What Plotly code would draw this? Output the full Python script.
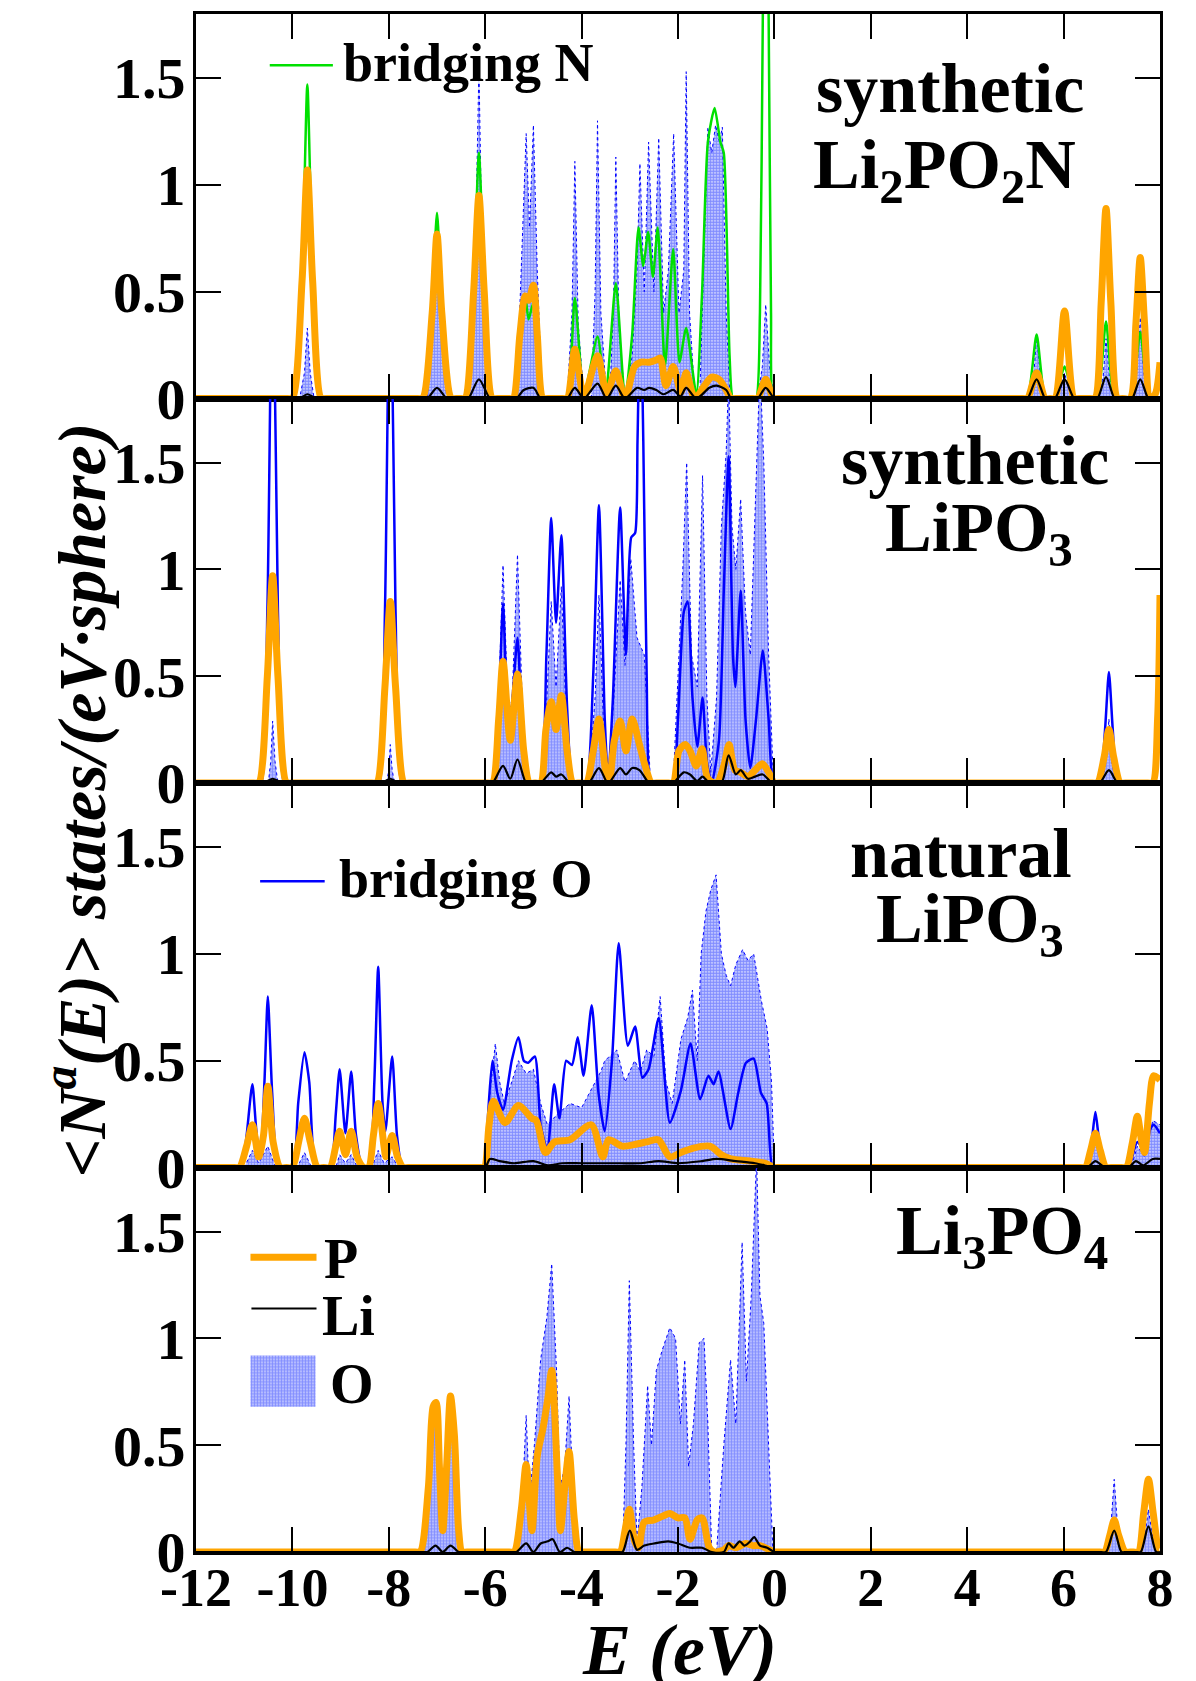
import plotly.graph_objects as go
from plotly.subplots import make_subplots

# ---------------- DATA ----------------
x_ticks = [-12, -10, -8, -6, -4, -2, 0, 2, 4, 6, 8]
x_ticktext = ["-12", "-10", "-8", "-6", "-4", "-2", "0", "2", "4", "6", "8"]
y_ticks = [0, 0.5, 1, 1.5]
y_ticktext = ["0", "0.5", "1", "1.5"]

# ---- Panel 1: synthetic Li2PO2N ----
p1_P_E = [-12, -10.1, -10.0, -9.8, -9.69, -9.58, -9.4, -9.3, -7.4, -7.3, -7.1, -7.0, -6.9, -6.7, -6.6, -6.5, -6.42,
          -6.24, -6.13, -6.02, -5.85, -5.75, -5.5, -5.42, -5.28, -5.17, -5.1, -5.0, -4.92, -4.8, -4.7, -4.4, -4.3,
          -4.14, -3.95, -3.67, -3.48, -3.29, -3.1, -2.9, -2.77, -2.6, -2.45, -2.37, -2.25, -2.1, -1.94, -1.83, -1.65,
          -1.45, -1.3, -1.15, -1.0, -0.9, -0.8, -0.45, -0.35, -0.18, -0.02, 0.08,
          5.15, 5.25, 5.44, 5.62, 5.72, 5.82, 6.02, 6.22, 6.32, 6.55, 6.65, 6.78, 6.88, 6.98, 7.12, 7.22, 7.38, 7.5,
          7.59, 7.68, 7.8, 7.9, 8.0]
p1_P_v = [0, 0, 0, 0.55, 1.07, 0.55, 0, 0, 0, 0, 0.4, 0.77, 0.4, 0, 0, 0, 0,
          0.5, 0.95, 0.5, 0, 0, 0, 0, 0.3, 0.48, 0.46, 0.53, 0.3, 0, 0, 0, 0,
          0.23, 0.01, 0.2, 0.02, 0.13, 0.0, 0.15, 0.17, 0.17, 0.18, 0.19, 0.06, 0.15, 0.03, 0.12, 0.0,
          0.06, 0.1, 0.09, 0.04, 0, 0, 0, 0, 0.09, 0, 0,
          0, 0, 0.12, 0, 0, 0, 0.41, 0, 0, 0, 0, 0.45, 0.89, 0.45, 0, 0, 0, 0.35,
          0.66, 0.35, 0, 0.02, 0.17]

p1_N_E = [-12, -10.1, -10.0, -9.8, -9.69, -9.58, -9.4, -9.3, -7.4, -7.3, -7.1, -7.0, -6.9, -6.7, -6.6, -6.5, -6.42,
          -6.24, -6.13, -6.02, -5.85, -5.75, -5.5, -5.42, -5.28, -5.17, -5.1, -5.0, -4.92, -4.8, -4.7, -4.4, -4.3,
          -4.14, -3.95, -3.67, -3.5, -3.29, -3.1, -2.95, -2.82, -2.72, -2.62, -2.52, -2.42, -2.27, -2.1, -1.97,
          -1.83, -1.62, -1.5, -1.38, -1.24, -1.12, -1.05, -0.93, -0.86, -0.76, -0.48, -0.38, -0.3, -0.24, -0.18,
          -0.12, -0.07, -0.03, 0.05, 5.15, 5.25, 5.44, 5.62, 5.72, 5.82, 6.02, 6.22, 6.32, 6.6, 6.7, 6.88, 7.05,
          7.15, 7.3, 7.4, 7.59, 7.78, 7.9, 8.0]
p1_N_v = [0, 0, 0, 0.6, 1.47, 0.6, 0, 0, 0, 0, 0.45, 0.87, 0.45, 0, 0, 0, 0,
          0.55, 1.15, 0.55, 0, 0, 0, 0, 0.3, 0.48, 0.37, 0.45, 0.3, 0, 0, 0, 0,
          0.47, 0.02, 0.29, 0.02, 0.54, 0.0, 0.3, 0.8, 0.62, 0.78, 0.57, 0.8, 0.15, 0.7, 0.17,
          0.33, 0.02, 0.5, 1.2, 1.36, 1.2, 1.15, 0.2, 0, 0, 0, 0, 0.4, 1.8, 2.8,
          1.8, 0.4, 0, 0, 0, 0, 0.3, 0, 0, 0, 0.15, 0, 0, 0, 0, 0.36, 0,
          0, 0, 0, 0.31, 0, 0, 0]

p1_Li_E = [-12, -9.95, -9.85, -9.69, -9.5, -9.4, -7.3, -7.2, -7.0, -6.8, -6.7, -6.45, -6.35, -6.13, -5.9, -5.8,
           -5.45, -5.35, -5.2, -5.0, -4.85, -4.75, -4.4, -4.3, -4.14, -3.95, -3.67, -3.48, -3.29, -3.1, -2.85,
           -2.7, -2.6, -2.45, -2.3, -2.1, -1.95, -1.83, -1.62, -1.35, -1.2, -1.0, -0.9, -0.8, -0.45, -0.35,
           -0.18, 0.0, 0.1, 5.15, 5.25, 5.44, 5.62, 5.72, 5.82, 6.02, 6.22, 6.32, 6.6, 6.7, 6.88, 7.06, 7.16,
           7.32, 7.42, 7.59, 7.76, 7.86, 8.0]
p1_Li_v = [0, 0, 0, 0.02, 0, 0, 0, 0, 0.05, 0, 0, 0, 0, 0.09, 0, 0,
           0, 0, 0.04, 0.05, 0, 0, 0, 0, 0.05, 0, 0.07, 0, 0.06, 0, 0.05,
           0.04, 0.05, 0.04, 0.02, 0.04, 0.01, 0.05, 0, 0.05, 0.06, 0.04, 0, 0, 0, 0,
           0.05, 0, 0, 0, 0, 0.09, 0, 0, 0, 0.09, 0, 0, 0, 0, 0.1, 0, 0,
           0, 0, 0.09, 0, 0, 0]

p1_O_E = [-12, -9.85, -9.75, -9.69, -9.63, -9.55, -7.2, -7.1, -7.0, -6.9, -6.8, -6.35, -6.22, -6.13, -6.05, -5.9,
          -5.35, -5.25, -5.15, -5.08, -5.0, -4.92, -4.82, -4.3, -4.2, -4.14, -4.07, -3.95, -3.8, -3.72, -3.67, -3.6,
          -3.48, -3.42, -3.34, -3.29, -3.22, -3.1, -2.95, -2.85, -2.79, -2.7, -2.61, -2.5, -2.4, -2.3, -2.2, -2.09,
          -1.98, -1.88, -1.83, -1.76, -1.65, -1.55, -1.45, -1.38, -1.3, -1.22, -1.14, -1.08, -1.0, -0.92, -0.35,
          -0.25, -0.18, -0.1, 0.0, 5.25, 5.38, 5.44, 5.52, 5.62, 5.85, 5.95, 6.02, 6.1, 6.2, 6.7, 6.82, 6.88, 6.95,
          7.05, 7.4, 7.52, 7.59, 7.66, 7.78, 8.0]
p1_O_v = [0, 0, 0.12, 0.33, 0.12, 0, 0, 0.35, 0.85, 0.35, 0, 0, 0.5, 1.55, 0.5, 0,
          0, 0.6, 1.24, 0.8, 1.28, 0.6, 0, 0, 0.4, 1.11, 0.35, 0, 0, 0.5, 1.3, 0.4,
          0, 0, 0.4, 1.13, 0.3, 0, 0.2, 0.6, 1.1, 0.5, 1.2, 0.5, 1.22, 0.4, 0.6, 1.24,
          0.4, 0.6, 1.53, 0.4, 0, 0, 0.7, 1.27, 1.15, 1.28, 1.2, 1.27, 0.4, 0, 0,
          0.15, 0.44, 0.15, 0, 0, 0.1, 0.3, 0.1, 0, 0, 0.05, 0.12, 0.05, 0, 0, 0.1, 0.28, 0.1,
          0, 0, 0.12, 0.38, 0.12, 0, 0]

# ---- Panel 2: synthetic LiPO3 ----
p2_P_E = [-12, -10.8, -10.7, -10.52, -10.41, -10.3, -10.12, -10.02, -8.35, -8.25, -8.08, -7.97, -7.86, -7.68,
          -7.58, -5.95, -5.85, -5.72, -5.63, -5.48, -5.33, -5.2, -5.08, -4.98, -4.95, -4.85, -4.74, -4.63, -4.53,
          -4.42, -4.3, -4.18, -4.08, -4.0, -3.9, -3.76, -3.64, -3.5, -3.43, -3.32, -3.2, -3.08, -2.95, -2.8, -2.68,
          -2.55, -2.45, -2.2, -2.1, -1.98, -1.85, -1.75, -1.62, -1.5, -1.38, -1.2, -1.05, -0.94, -0.82, -0.7,
          -0.55, -0.4, -0.25, -0.12, 0.0, 0.1, 6.6, 6.7, 6.84, 6.94, 7.04, 7.18, 7.28, 7.75, 7.85, 7.95, 8.0]
p2_P_v = [0, 0, 0, 0.5, 0.97, 0.5, 0, 0, 0, 0, 0.45, 0.85, 0.45, 0,
          0, 0, 0, 0.3, 0.57, 0.2, 0.51, 0.15, 0, 0, 0, 0, 0.25, 0.38, 0.25,
          0.41, 0.15, 0, 0, 0, 0, 0.15, 0.3, 0.05, 0.0, 0.2, 0.29, 0.15, 0.3, 0.18, 0.08,
          0, 0, 0, 0, 0.15, 0.18, 0.15, 0.08, 0.16, 0.02, 0.0, 0.08, 0.18, 0.06, 0.05,
          0.03, 0.06, 0.09, 0.05, 0, 0, 0, 0, 0.12, 0.25, 0.12, 0, 0, 0, 0, 0.3, 0.88]

p2_BO_E = [-12, -10.75, -10.65, -10.52, -10.41, -10.3, -10.17, -10.07, -8.3, -8.2, -8.08, -7.97, -7.86, -7.73,
           -7.63, -5.95, -5.85, -5.72, -5.63, -5.52, -5.45, -5.33, -5.22, -5.1, -5.0, -4.95, -4.85, -4.73, -4.63,
           -4.53, -4.42, -4.3, -4.18, -4.08, -4.0, -3.9, -3.76, -3.64, -3.52, -3.45, -3.35, -3.2, -3.08, -2.97,
           -2.89, -2.84, -2.78, -2.72, -2.65, -2.57, -2.47, -2.2, -2.1, -2.0, -1.88, -1.8, -1.7, -1.6, -1.49,
           -1.4, -1.3, -1.15, -1.05, -0.95, -0.86, -0.81, -0.7, -0.6, -0.5, -0.38, -0.24, -0.12, -0.02, 0.08,
           6.65, 6.75, 6.86, 6.94, 7.02, 7.12, 7.22, 8.0]
p2_BO_v = [0, 0, 0, 0.8, 2.6, 0.8, 0, 0, 0, 0, 0.8, 2.6, 0.8, 0,
           0, 0, 0, 0.35, 0.84, 0.25, 0.35, 0.68, 0.2, 0, 0, 0, 0, 0.6, 1.24,
           0.75, 1.16, 0.35, 0, 0, 0, 0, 0.5, 1.3, 0.3, 0.02, 0.4, 1.29, 0.6, 1.15,
           1.17, 1.6, 2.3, 1.6, 0.5, 0, 0, 0, 0, 0.3, 0.8, 0.85, 0.4, 0.17, 0.4,
           0.1, 0, 0.2, 0.9, 1.53, 0.6, 0.45, 0.9, 0.3, 0.07, 0.3, 0.62, 0.3, 0, 0,
           0, 0, 0.25, 0.52, 0.25, 0, 0, 0]

p2_Li_E = [-12, -10.7, -10.6, -10.41, -10.2, -10.1, -8.25, -8.15, -7.97, -7.8, -7.7, -5.95, -5.85, -5.63, -5.48,
           -5.33, -5.15, -5.05, -4.95, -4.85, -4.63, -4.53, -4.42, -4.25, -4.15, -3.95, -3.85, -3.64, -3.45, -3.2,
           -3.08, -2.95, -2.8, -2.6, -2.5, -2.2, -2.1, -1.88, -1.75, -1.6, -1.49, -1.35, -1.1, -0.95, -0.8, -0.7,
           -0.55, -0.4, -0.24, -0.05, 0.05, 6.65, 6.75, 6.94, 7.12, 7.22, 8.0]
p2_Li_v = [0, 0, 0, 0.02, 0, 0, 0, 0, 0.02, 0, 0, 0, 0, 0.08, 0.02,
           0.11, 0, 0, 0, 0, 0.05, 0.03, 0.04, 0, 0, 0, 0, 0.07, 0, 0.07,
           0.04, 0.07, 0.06, 0, 0, 0, 0, 0.05, 0.04, 0.01, 0.03, 0, 0.0, 0.13, 0.04, 0.06,
           0.02, 0.03, 0.04, 0, 0, 0, 0, 0.06, 0, 0, 0]

p2_O_E = [-12, -10.5, -10.45, -10.41, -10.36, -10.3, -8.05, -8.0, -7.97, -7.93, -7.88, -5.82, -5.72, -5.63,
          -5.52, -5.44, -5.33, -5.22, -5.1, -4.82, -4.72, -4.63, -4.53, -4.42, -4.32, -4.2, -3.85, -3.72, -3.64,
          -3.55, -3.45, -3.33, -3.2, -3.1, -2.98, -2.85, -2.7, -2.57, -2.1, -2.0, -1.9, -1.82, -1.72, -1.6,
          -1.49, -1.4, -1.32, -1.2, -1.1, -1.0, -0.95, -0.88, -0.8, -0.7, -0.6, -0.5, -0.4, -0.3, -0.22, -0.12,
          -0.02, 6.8, 6.88, 6.94, 7.0, 7.08, 8.0]
p2_O_v = [0, 0, 0.1, 0.29, 0.1, 0, 0, 0.06, 0.18, 0.06, 0, 0, 0.4, 1.02,
          0.3, 0.4, 1.07, 0.3, 0, 0, 0.4, 0.85, 0.45, 0.92, 0.3, 0, 0, 0.4, 0.88,
          0.3, 0, 0.4, 0.95, 0.55, 1.05, 0.68, 0.6, 0, 0, 0.5, 1.0, 1.5, 0.6, 0.45,
          1.44, 0.4, 0.05, 0.4, 1.2, 1.55, 1.9, 1.2, 1.0, 1.33, 0.8, 0.6, 1.3, 1.95, 1.5, 0.6,
          0, 0, 0.1, 0.3, 0.1, 0, 0]

# ---- Panel 3: natural LiPO3 ----
p3_P_E = [-12, -11.2, -11.1, -10.95, -10.83, -10.7, -10.6, -10.51, -10.4, -10.25, -10.12, -10.0, -9.87, -9.75,
          -9.63, -9.48, -9.35, -9.22, -9.1, -9.02, -8.9, -8.78, -8.66, -8.52, -8.42, -8.32, -8.22, -8.1, -8.06,
          -7.93, -7.82, -7.7, -7.6, -6.1, -6.02, -5.92, -5.83, -5.59, -5.31, -5.03, -4.94, -4.75, -4.56, -4.24,
          -3.8, -3.56, -3.44, -3.16, -2.85, -2.65, -2.41, -2.17, -1.94, -1.7, -1.34, -1.1, -0.9, -0.5, -0.2,
          0.0, 0.1, 6.35, 6.45, 6.56, 6.66, 6.76, 6.88, 6.98, 7.2, 7.3, 7.43, 7.53, 7.62, 7.68, 7.78, 7.87, 8.0]
p3_P_v = [0, 0, 0, 0.1, 0.2, 0.05, 0.15, 0.38, 0.12, 0, 0, 0, 0.12, 0.23,
          0.12, 0, 0, 0, 0.1, 0.17, 0.06, 0.17, 0.05, 0, 0, 0.15, 0.3, 0.1, 0.05,
          0.15, 0.05, 0, 0, 0, 0, 0.2, 0.31, 0.21, 0.29, 0.23, 0.22, 0.07, 0.12, 0.13,
          0.2, 0.05, 0.13, 0.1, 0.11, 0.12, 0.13, 0.05, 0.07, 0.09, 0.1, 0.06, 0.04, 0.03, 0.02,
          0, 0, 0, 0, 0.08, 0.16, 0.08, 0, 0, 0, 0, 0.12, 0.24, 0.12, 0.07, 0.3, 0.43, 0.41]

p3_BO_E = [-12, -11.15, -11.05, -10.95, -10.83, -10.72, -10.66, -10.58, -10.51, -10.42, -10.3, -10.2, -10.08,
           -9.98, -9.88, -9.75, -9.65, -9.52, -9.42, -9.3, -9.2, -9.1, -9.02, -8.9, -8.78, -8.68, -8.55, -8.48,
           -8.4, -8.3, -8.22, -8.13, -8.07, -7.93, -7.83, -7.72, -7.62, -6.1, -6.0, -5.94, -5.85, -5.75, -5.63,
           -5.45, -5.31, -5.2, -5.11, -4.97, -4.85, -4.71, -4.57, -4.46, -4.32, -4.2, -4.08, -3.96, -3.79, -3.65,
           -3.52, -3.37, -3.23, -3.04, -2.89, -2.74, -2.61, -2.4, -2.17, -1.94, -1.74, -1.54, -1.37, -1.26,
           -1.16, -0.91, -0.75, -0.59, -0.43, -0.28, -0.16, -0.04, 0.06, 6.35, 6.45, 6.58, 6.66, 6.74, 6.86,
           6.96, 7.25, 7.35, 7.53, 7.68, 7.8, 7.87, 8.0]
p3_BO_v = [0, 0, 0, 0.15, 0.39, 0.12, 0.1, 0.4, 0.8, 0.35, 0, 0, 0,
           0, 0.3, 0.54, 0.4, 0, 0, 0, 0, 0.25, 0.46, 0.16, 0.45, 0.15, 0, 0,
           0, 0.4, 0.94, 0.3, 0.17, 0.52, 0.15, 0, 0, 0, 0, 0.25, 0.5, 0.35, 0.27,
           0.5, 0.61, 0.5, 0.49, 0.52, 0.2, 0.08, 0.39, 0.23, 0.5, 0.48, 0.61, 0.43, 0.76, 0.35,
           0.17, 0.5, 1.05, 0.57, 0.66, 0.42, 0.46, 0.7, 0.21, 0.36, 0.58, 0.32, 0.43, 0.39,
           0.45, 0.18, 0.35, 0.49, 0.51, 0.35, 0.3, 0.0, 0, 0, 0, 0.12, 0.26, 0.12, 0,
           0, 0, 0, 0.12, 0.08, 0.18, 0.2, 0.16]

p3_Li_E = [-12, -6.1, -6.0, -5.9, -5.7, -5.4, -5.0, -4.7, -4.4, -4.0, -3.6, -3.2, -2.8, -2.4, -2.0, -1.5, -1.2,
           -0.8, -0.4, 0.0, 0.1, 6.4, 6.5, 6.66, 6.85, 6.95, 7.25, 7.35, 7.5, 7.65, 7.85, 8.0]
p3_Li_v = [0, 0, 0, 0.04, 0.03, 0.02, 0.03, 0.01, 0.02, 0.02, 0.02, 0.02, 0.02, 0.03, 0.02, 0.03, 0.04,
           0.03, 0.02, 0, 0, 0, 0, 0.03, 0, 0, 0, 0, 0.03, 0.01, 0.04, 0.04]

p3_O_E = [-12, -11.0, -10.83, -10.7, -10.51, -10.35, -9.9, -9.75, -9.6, -9.1, -9.02, -8.9, -8.78, -8.65,
          -8.35, -8.22, -8.1, -7.93, -7.8, -6.0, -5.9, -5.79, -5.7, -5.6, -5.45, -5.31, -5.15, -5.0, -4.85,
          -4.71, -4.5, -4.24, -4.0, -3.84, -3.6, -3.52, -3.27, -3.1, -2.9, -2.78, -2.65, -2.5, -2.37, -2.25,
          -2.12, -1.94, -1.8, -1.7, -1.6, -1.52, -1.42, -1.32, -1.21, -1.1, -1.0, -0.91, -0.8, -0.66, -0.55,
          -0.43, -0.27, -0.15, -0.06, 0.0, 6.5, 6.66, 6.8, 7.4, 7.53, 7.68, 7.85, 8.0]
p3_O_v = [0, 0, 0.08, 0.02, 0.1, 0, 0, 0.07, 0, 0, 0.06, 0.02, 0.06, 0,
          0, 0.08, 0.02, 0.05, 0, 0, 0.35, 0.58, 0.4, 0.3, 0.4, 0.5, 0.44, 0.46, 0.3,
          0.2, 0.25, 0.3, 0.28, 0.35, 0.45, 0.5, 0.55, 0.4, 0.5, 0.45, 0.55, 0.52, 0.8, 0.4,
          0.3, 0.6, 0.7, 0.83, 0.5, 1.0, 1.2, 1.3, 1.37, 1.0, 0.9, 0.85, 0.95, 1.02, 0.97,
          1.0, 0.78, 0.65, 0.4, 0, 0, 0.12, 0, 0, 0.1, 0.05, 0.22, 0.2]

# ---- Panel 4: Li3PO4 ----
p4_P_E = [-12, -7.45, -7.35, -7.18, -7.08, -7.02, -6.95, -6.88, -6.8, -6.72, -6.64, -6.55, -6.48, -6.38, -5.5,
          -5.4, -5.25, -5.15, -5.03, -4.92, -4.8, -4.7, -4.62, -4.5, -4.44, -4.33, -4.26, -4.15, -4.05, -3.95,
          -3.3, -3.2, -3.1, -3.01, -2.9, -2.82, -2.7, -2.5, -2.3, -2.17, -2.0, -1.86, -1.75, -1.6, -1.5, -1.35,
          -1.25, -1.05, -0.95, -0.8, -0.6, -0.45, -0.3, -0.1, 0.0, 0.1, 6.75, 6.85, 6.96, 7.05, 7.14, 7.28,
          7.38, 7.45, 7.55, 7.66, 7.76, 7.86, 7.98, 8.0]
p4_P_v = [0, 0, 0, 0.3, 0.68, 0.7, 0.4, 0.1, 0.4, 0.73, 0.55, 0.1, 0, 0, 0,
          0, 0.2, 0.41, 0.1, 0.45, 0.58, 0.72, 0.85, 0.35, 0.1, 0.35, 0.47, 0.15, 0, 0,
          0, 0, 0.1, 0.2, 0.05, 0.02, 0.14, 0.15, 0.17, 0.18, 0.16, 0.16, 0.06, 0.15, 0.16, 0.02,
          0, 0.01, 0.03, 0.02, 0.04, 0.03, 0.03, 0.01, 0, 0, 0, 0, 0.08, 0.15, 0.08, 0,
          0, 0, 0, 0.18, 0.34, 0.18, 0, 0]

p4_Li_E = [-12, -7.3, -7.2, -7.03, -6.88, -6.72, -6.55, -6.45, -5.45, -5.35, -5.15, -5.0, -4.85, -4.7, -4.6,
           -4.45, -4.3, -4.15, -4.05, -3.25, -3.15, -3.0, -2.85, -2.7, -2.5, -2.2, -2.0, -1.75, -1.5, -1.3, -1.05,
           -0.95, -0.85, -0.72, -0.62, -0.5, -0.42, -0.3, -0.15, 0.0, 0.1, 6.78, 6.88, 7.05, 7.2, 7.3, 7.5, 7.6,
           7.76, 7.92, 8.0]
p4_Li_v = [0, 0, 0, 0.03, 0.0, 0.03, 0, 0, 0, 0, 0.04, 0.0, 0.04, 0.05, 0.06,
           0.0, 0.02, 0, 0, 0, 0, 0.1, 0.01, 0.03, 0.04, 0.05, 0.04, 0.02, 0.02, 0, 0,
           0.04, 0.02, 0.05, 0.03, 0.05, 0.07, 0.03, 0.02, 0, 0, 0, 0, 0.1, 0, 0, 0, 0,
           0.12, 0, 0]

p4_O_E = [-12, -7.3, -7.15, -7.05, -6.95, -6.88, -6.8, -6.7, -6.6, -6.5, -5.35, -5.22, -5.15, -5.08, -4.98,
          -4.85, -4.72, -4.62, -4.52, -4.45, -4.35, -4.26, -4.18, -4.08, -3.15, -3.08, -3.01, -2.92, -2.85,
          -2.75, -2.63, -2.55, -2.45, -2.32, -2.17, -2.05, -1.95, -1.86, -1.78, -1.68, -1.56, -1.46, -1.38,
          -1.3, -1.2, -1.05, -0.91, -0.8, -0.67, -0.58, -0.48, -0.37, -0.3, -0.22, -0.12, -0.03, 6.9, 6.98,
          7.05, 7.12, 7.2, 7.6, 7.7, 7.76, 7.84, 7.95, 8.0]
p4_O_v = [0, 0, 0.3, 0.7, 0.35, 0.1, 0.35, 0.74, 0.3, 0, 0, 0.3, 0.64, 0.25, 0.5,
          0.9, 1.1, 1.35, 0.85, 0.3, 0.4, 0.73, 0.3, 0, 0, 0.5, 1.27, 0.5, 0.05,
          0.3, 0.78, 0.5, 0.85, 0.95, 1.05, 1.0, 0.6, 0.9, 0.4, 0.6, 0.98, 1.0, 0.6,
          0.0, 0, 0.5, 0.9, 0.6, 1.45, 0.8, 1.2, 1.85, 1.2, 1.07, 0.5, 0, 0, 0.12,
          0.34, 0.12, 0, 0, 0.1, 0.2, 0.08, 0, 0]

panel_titles = [["synthetic", "Li<sub>2</sub>PO<sub>2</sub>N"],
                ["synthetic", "LiPO<sub>3</sub>"],
                ["natural", "LiPO<sub>3</sub>"],
                ["Li<sub>3</sub>PO<sub>4</sub>"]]

# ---------------- STYLE ----------------
FONT = "Liberation Serif"
ORANGE = "#ffa500"
BLUE = "#0000ff"
GREEN = "#00e000"

fig = make_subplots(rows=4, cols=1, shared_xaxes=True, vertical_spacing=0)

pattern = dict(shape=".", fgcolor="#1f33ff", bgcolor="#e4e7ff", size=3, solidity=0.75)

panels = [
    (p1_O_E, p1_O_v, p1_N_E, p1_N_v, GREEN, p1_P_E, p1_P_v, p1_Li_E, p1_Li_v),
    (p2_O_E, p2_O_v, p2_BO_E, p2_BO_v, BLUE, p2_P_E, p2_P_v, p2_Li_E, p2_Li_v),
    (p3_O_E, p3_O_v, p3_BO_E, p3_BO_v, BLUE, p3_P_E, p3_P_v, p3_Li_E, p3_Li_v),
    (p4_O_E, p4_O_v, None, None, None, p4_P_E, p4_P_v, p4_Li_E, p4_Li_v),
]

for i, (oE, oV, bE, bV, bC, pE, pV, lE, lV) in enumerate(panels):
    row = i + 1
    fig.add_trace(go.Scatter(x=oE, y=oV, mode="lines", fill="tozeroy", fillpattern=pattern,
                             line=dict(color=BLUE, width=1, dash="dot"), showlegend=False), row=row, col=1)
    if bE is not None:
        fig.add_trace(go.Scatter(x=bE, y=bV, mode="lines",
                                 line=dict(color=bC, width=2.5, shape="spline", smoothing=0.6),
                                 showlegend=False), row=row, col=1)
    fig.add_trace(go.Scatter(x=pE, y=pV, mode="lines",
                             line=dict(color=ORANGE, width=7, shape="spline", smoothing=0.8),
                             showlegend=False), row=row, col=1)
    fig.add_trace(go.Scatter(x=lE, y=lV, mode="lines",
                             line=dict(color="black", width=2.2, shape="spline", smoothing=0.8),
                             showlegend=False), row=row, col=1)

# legend patch for O (panel 4)
fig.add_trace(go.Scatter(x=[-10.87, -9.52, -9.52, -10.87, -10.87], y=[0.68, 0.68, 0.92, 0.92, 0.68],
                         mode="lines", fill="toself", fillpattern=pattern, line=dict(width=0, color=BLUE),
                         showlegend=False, hoverinfo="skip"), row=4, col=1)

for r in range(1, 5):
    fig.update_xaxes(range=[-12, 8], tickvals=x_ticks, ticktext=x_ticktext, ticks="inside", ticklen=25,
                     tickwidth=2, tickcolor="black", showline=True, linewidth=3, linecolor="black",
                     mirror="ticks", showgrid=False, zeroline=False, ticklabelstandoff=-14,
                     tickfont=dict(family=FONT, size=54, color="black", weight="bold"), row=r, col=1)
    fig.update_yaxes(range=[0, 1.8], tickvals=y_ticks, ticktext=y_ticktext, ticks="inside", ticklen=25,
                     tickwidth=2, tickcolor="black", showline=True, linewidth=3, linecolor="black",
                     mirror="ticks", showgrid=False, zeroline=False, ticklabelstandoff=-4,
                     tickfont=dict(family=FONT, size=58, color="black", weight="bold"), row=r, col=1)

ann = []
tfont = dict(family=FONT, size=70, color="black", weight="bold")
title_pos = [[(3.64, 1.45), (3.52, 1.07)], [(4.16, 1.51), (4.25, 1.17)], [(3.87, 1.47), (4.05, 1.14)], [(4.72, 1.48)]]
axn = ["", "2", "3", "4"]
for i, lines in enumerate(panel_titles):
    for txt, (xx, yy) in zip(lines, title_pos[i]):
        ann.append(dict(text=txt, x=xx, y=yy, xref="x" + axn[i], yref="y" + axn[i], showarrow=False,
                        xanchor="center", yanchor="middle", font=tfont))

lfont = dict(family=FONT, size=54, color="black", weight="bold")
ann.append(dict(text="bridging N", x=-9.0, y=1.57, xref="x", yref="y", showarrow=False, xanchor="left",
                yanchor="middle", font=lfont))
ann.append(dict(text="bridging O", x=-9.08, y=1.35, xref="x3", yref="y3", showarrow=False, xanchor="left",
                yanchor="middle", font=lfont))
l4font = dict(family=FONT, size=56, color="black", weight="bold")
ann.append(dict(text="P", x=-9.38, y=1.37, xref="x4", yref="y4", showarrow=False, xanchor="left", yanchor="middle", font=l4font))
ann.append(dict(text="Li", x=-9.42, y=1.105, xref="x4", yref="y4", showarrow=False, xanchor="left", yanchor="middle", font=l4font))
ann.append(dict(text="O", x=-9.26, y=0.785, xref="x4", yref="y4", showarrow=False, xanchor="left", yanchor="middle", font=l4font))

ann.append(dict(text="E (eV)", x=0.502, y=-0.0636, xref="paper", yref="paper", showarrow=False,
                xanchor="center", yanchor="middle",
                font=dict(family=FONT, size=72, color="black", weight="bold", style="italic")))
ann.append(dict(text="&lt;N<sup>a</sup>(E)&gt; states/(eV·sphere)", x=-0.123, y=0.489, xref="paper", yref="paper",
                showarrow=False, xanchor="center", yanchor="middle", textangle=-90,
                font=dict(family=FONT, size=68, color="black", weight="bold", style="italic")))

shapes = [
    dict(type="line", x0=-10.47, x1=-9.16, y0=1.56, y1=1.56, xref="x", yref="y", line=dict(color=GREEN, width=2.5)),
    dict(type="line", x0=-10.67, x1=-9.33, y0=1.34, y1=1.34, xref="x3", yref="y3", line=dict(color=BLUE, width=2.5)),
    dict(type="line", x0=-10.87, x1=-9.5, y0=1.38, y1=1.38, xref="x4", yref="y4", line=dict(color=ORANGE, width=7)),
    dict(type="line", x0=-10.85, x1=-9.5, y0=1.14, y1=1.14, xref="x4", yref="y4", line=dict(color="black", width=2)),
]

fig.update_layout(width=1188, height=1673, margin=dict(l=188, r=36, t=3, b=129),
                  paper_bgcolor="white", plot_bgcolor="white", annotations=ann, shapes=shapes,
                  showlegend=False)

fig.write_html("out.html")
